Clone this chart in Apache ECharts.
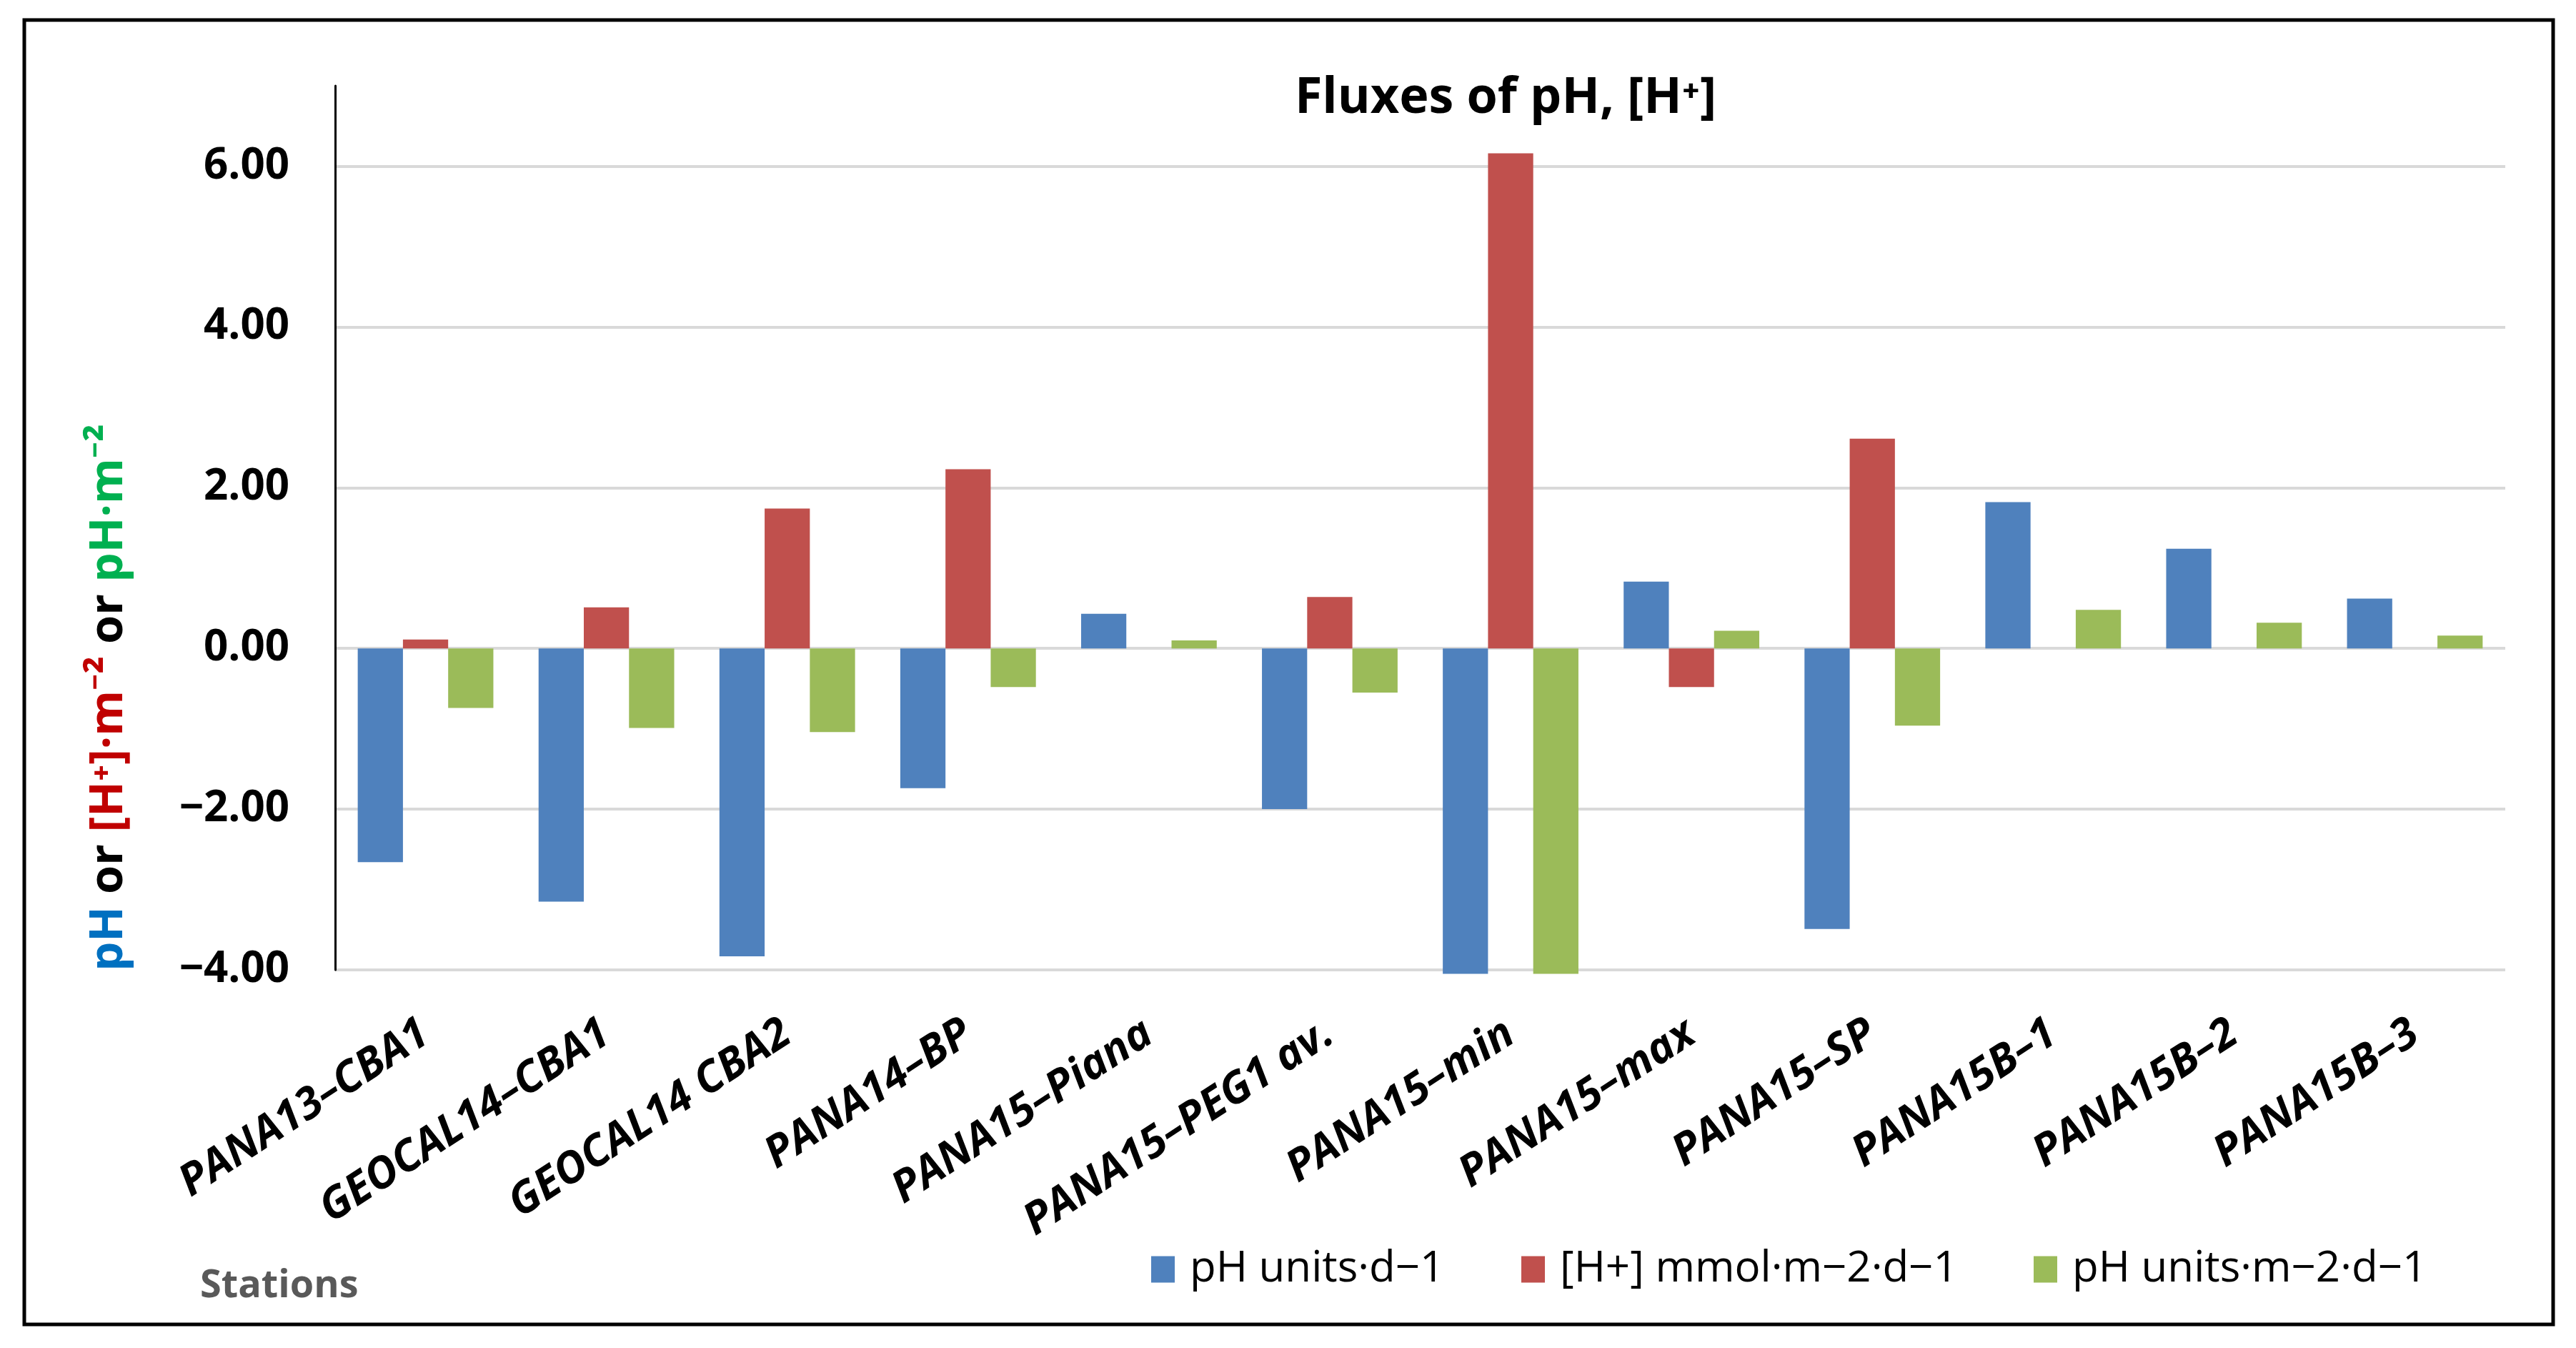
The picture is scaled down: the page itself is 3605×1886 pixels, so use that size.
<!DOCTYPE html>
<html>
<head>
<meta charset="utf-8">
<script src="https://cdn.jsdelivr.net/npm/echarts@6/dist/echarts.min.js"></script>
<style>
html,body{margin:0;padding:0;background:#fff;}
#chart{width:3605px;height:1886px;}
</style>
</head>
<body>
<div id="chart"></div>
<script>
const categories = ['PANA13–CBA1','GEOCAL14–CBA1','GEOCAL14 CBA2','PANA14–BP','PANA15–Piana','PANA15–PEG1 av.','PANA15–min','PANA15–max','PANA15–SP','PANA15B–1','PANA15B–2','PANA15B–3'];
const seriesNames = ['pH units·d−1','[H+] mmol·m−2·d−1','pH units·m−2·d−1'];
const phPerDay = [-2.66,-3.15,-3.83,-1.74,0.43,-2.00,-4.05,0.83,-3.49,1.82,1.24,0.62];
const hPerM2Day = [0.11,0.51,1.74,2.23,0,0.64,6.16,-0.48,2.61,0,0,0];
const phPerM2Day = [-0.74,-0.99,-1.04,-0.48,0.10,-0.55,-4.05,0.22,-0.96,0.48,0.32,0.16];
const yTicks = [-4,-2,0,2,4,6];

const FONT = '"Open Sans", "Noto Sans", sans-serif';
const colors = ['#4F81BD','#C0504D','#9BBB59'];
const legendLefts = [1611, 2129, 2846];
const chart = echarts.init(document.getElementById('chart'), null, {renderer:'canvas'});
const mkSeries = (i, data) => ({name:seriesNames[i],type:'bar',data:data,clip:false,itemStyle:{color:colors[i]},barGap:'0%',barCategoryGap:'25%'});
chart.setOption({
  animation:false,
  backgroundColor:'#fff',
  grid:{left:469,right:99,top:120,bottom:529},
  xAxis:{
    type:'category',
    data:categories,
    axisLine:{show:false,onZero:false},
    axisTick:{show:false},
    axisLabel:{rotate:33,margin:84,fontFamily:FONT,fontSize:61,fontWeight:'bold',fontStyle:'italic',color:'#000',interval:0}
  },
  yAxis:{
    type:'value',min:-4,max:7,interval:2,
    axisLine:{show:true,lineStyle:{color:'#000',width:3}},
    axisTick:{show:false},
    splitLine:{show:true,showMaxLine:false,lineStyle:{color:'#D9D9D9',width:4}},
    axisLabel:{showMaxLabel:false,margin:64,fontFamily:FONT,fontSize:60,fontWeight:'bold',color:'#000',
      formatter:(v)=>v.toFixed(2).replace('-','−')}
  },
  legend: seriesNames.map((n,i)=>({
    left:legendLefts[i],top:1746,itemWidth:33,itemHeight:37,padding:0,
    icon:'rect',
    textStyle:{fontFamily:FONT,fontSize:60,color:'#000',padding:[0,0,0,16]},
    data:[n]
  })),
  series:[
    mkSeries(0, phPerDay),
    mkSeries(1, hPerM2Day),
    mkSeries(2, phPerM2Day)
  ],
  graphic:[
    {type:'rect',shape:{x:34,y:28,width:3539,height:1825},style:{fill:'none',stroke:'#000',lineWidth:5},silent:true,z:-1},
    {type:'text',x:2107,y:138,style:{text:'Fluxes of pH, [H⁺]',font:'bold 70px '+FONT,fill:'#000',textAlign:'center',textVerticalAlign:'middle'}},
    {type:'text',x:280,y:1800,style:{text:'Stations',font:'bold 54px '+FONT,fill:'#595959',textAlign:'left',textVerticalAlign:'middle'}},
    {type:'text',x:152,y:976,rotation:Math.PI/2,
      style:{
        text:'{b|pH}{k| or }{r|[H⁺]·m⁻²}{k| or }{g|pH·m⁻²}',
        font:'bold 65px '+FONT,
        textAlign:'center',textVerticalAlign:'middle',
        rich:{
          b:{fill:'#0070C0',font:'bold 65px '+FONT},
          k:{fill:'#000',font:'bold 65px '+FONT},
          r:{fill:'#C00000',font:'bold 65px '+FONT},
          g:{fill:'#00B050',font:'bold 65px '+FONT}
        }
      }}
  ]
});
</script>
</body>
</html>
